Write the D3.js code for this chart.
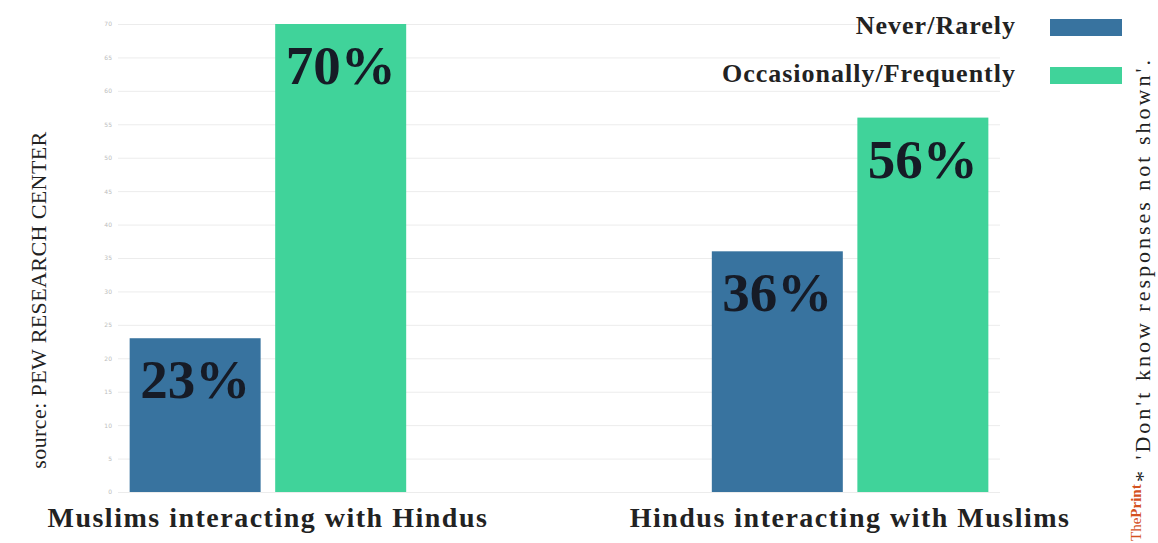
<!DOCTYPE html>
<html>
<head>
<meta charset="utf-8">
<script src="https://cdn.jsdelivr.net/npm/d3@7"></script>
<style>
  body { margin: 0; background: #fff; }
  text { font-family: "Liberation Serif", serif; }
</style>
</head>
<body>
<div id="chart"></div>
<script>
// data
var categories = ["Muslims interacting with Hindus", "Hindus interacting with Muslims"];
var seriesNames = ["Never/Rarely", "Occasionally/Frequently"];
var neverRarely = [23, 36];
var occasionally = [70, 56];
var yTicks = [0, 5, 10, 15, 20, 25, 30, 35, 40, 45, 50, 55, 60, 65, 70];

var colors = ["#38739f", "#40d39a"];

var svgWidth = 1158;
var svgHeight = 543;

var margin = {
  top: 24,
  right: 158,
  bottom: 51,
  left: 118
};

var width = svgWidth - margin.left - margin.right;
var height = svgHeight - margin.top - margin.bottom;

var svg = d3.select("#chart")
  .append("svg")
  .attr("width", svgWidth)
  .attr("height", svgHeight);

var chartGroup = svg.append("g")
  .attr("transform", `translate(${margin.left}, ${margin.top})`);

// build rows for the grouped bars
var rows = categories.map(function(c, i) {
  return { category: c, values: [neverRarely[i], occasionally[i]] };
});

// scales
var x0 = d3.scaleBand()
  .domain(categories)
  .range([0, width])
  .paddingInner(0.525)
  .paddingOuter(0.02);

var x1 = d3.scaleBand()
  .domain(seriesNames)
  .range([0, x0.bandwidth()])
  .paddingInner(0.1);

var yLinearScale = d3.scaleLinear()
  .domain([0, 70])
  .range([height, 0]);

// y axis with gridlines
var leftAxis = d3.axisLeft(yLinearScale)
  .tickValues(yTicks)
  .tickSize(-width)
  .tickPadding(6);

var yAxis = chartGroup.append("g")
  .call(leftAxis);

yAxis.select(".domain").remove();
yAxis.selectAll(".tick line")
  .attr("stroke", "#ececec");
yAxis.selectAll(".tick text")
  .attr("fill", "#bdbdbd")
  .style("font-family", "DejaVu Sans, sans-serif")
  .style("font-size", "6px");

// bars
var groups = chartGroup.selectAll(".group")
  .data(rows)
  .enter()
  .append("g")
  .attr("class", "group")
  .attr("transform", d => `translate(${x0(d.category)}, 0)`);

groups.selectAll("rect")
  .data(d => d.values.map((v, i) => ({ name: seriesNames[i], value: v, idx: i })))
  .enter()
  .append("rect")
  .attr("x", d => x1(d.name))
  .attr("y", d => yLinearScale(d.value))
  .attr("width", x1.bandwidth())
  .attr("height", d => height - yLinearScale(d.value))
  .attr("fill", d => colors[d.idx]);

// value labels inside the bars
groups.selectAll(".val")
  .data(d => d.values.map((v, i) => ({ name: seriesNames[i], value: v })))
  .enter()
  .append("text")
  .attr("class", "val")
  .attr("x", d => x1(d.name) + x1.bandwidth() / 2)
  .attr("y", d => yLinearScale(d.value) + 60)
  .attr("text-anchor", "middle")
  .attr("fill", "#161b26")
  .style("font-size", "55px")
  .style("font-weight", "bold")
  .text(d => d.value + "%");

// category labels
chartGroup.selectAll(".cat")
  .data(categories)
  .enter()
  .append("text")
  .attr("class", "cat")
  .attr("x", d => x0(d) + x0.bandwidth() / 2)
  .attr("y", height + 35)
  .attr("text-anchor", "middle")
  .attr("fill", "#222")
  .style("font-size", "28px")
  .style("font-weight", "bold")
  .style("letter-spacing", "1.5px")
  .text(d => d);

// legend
var legend = svg.append("g");

seriesNames.forEach(function(name, i) {
  var ly = 19 + i * 48;
  legend.append("rect")
    .attr("x", 1050)
    .attr("y", ly)
    .attr("width", 72)
    .attr("height", 17)
    .attr("fill", colors[i]);
  legend.append("text")
    .attr("x", 1016)
    .attr("y", ly + 15)
    .attr("text-anchor", "end")
    .attr("fill", "#222")
    .style("font-size", "26px")
    .style("font-weight", "bold")
    .style("letter-spacing", "1px")
    .text(name);
});

// source note, left
svg.append("text")
  .attr("transform", "translate(46, 300) rotate(-90)")
  .attr("text-anchor", "middle")
  .attr("fill", "#222")
  .style("font-size", "22px")
  .style("letter-spacing", "0.4px")
  .text("source: PEW RESEARCH CENTER");

// footnote, right
svg.append("text")
  .attr("transform", "translate(1150, 482) rotate(-90)")
  .attr("fill", "#222")
  .style("font-size", "22px")
  .style("letter-spacing", "3px")
  .text("* 'Don't know responses not shown'.");

var brand = svg.append("text")
  .attr("transform", "translate(1141, 541) rotate(-90)")
  .attr("fill", "#d4521f")
  .style("font-size", "15px");
brand.append("tspan").text("The");
brand.append("tspan").style("font-weight", "bold").text("Print");
</script>
</body>
</html>
